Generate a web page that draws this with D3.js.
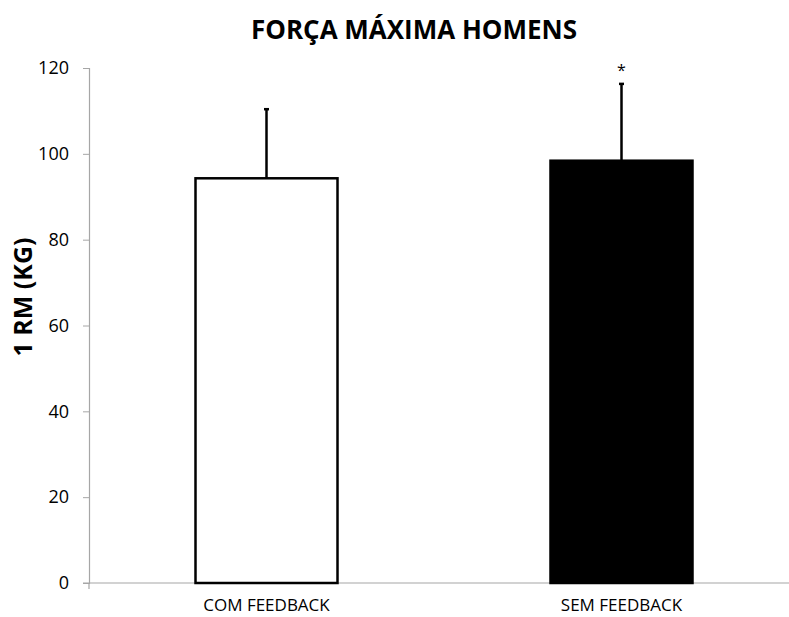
<!DOCTYPE html>
<html><head><meta charset="utf-8">
<script src="https://cdn.jsdelivr.net/npm/d3@7"></script>
<style>body{margin:0;background:#fff}svg{display:block}</style>
</head><body>
<svg id="c" width="789" height="617"></svg>
<script>
const categories = ["COM FEEDBACK", "SEM FEEDBACK"];
const means = [94.3, 98.4];
const errors = [16.1, 17.9];
const fills = ["#ffffff", "#000000"];
const marks = ["", "*"];
const yTicks = [0, 20, 40, 60, 80, 100, 120];
const title = "FORÇA MÁXIMA HOMENS";
const yLabel = "1 RM (KG)";

const svg = d3.select("#c");
const font = "'Open Sans', 'Noto Sans', sans-serif";
const x0 = 89, x1 = 799, yTop = 68, yBot = 583;
const x = d3.scaleBand().domain(categories).range([x0, x1]).paddingInner(0.6).paddingOuter(0.3);
const y = d3.scaleLinear().domain([0, 120]).range([yBot, yTop]);

svg.append("text").attr("x", 414).attr("y", 39).attr("text-anchor", "middle")
  .attr("font-family", font).attr("font-weight", "bold").attr("font-size", 26)
  .attr("fill", "#000").text(title);

const yAxis = svg.append("g").attr("transform", `translate(${x0},0)`)
  .call(d3.axisLeft(y).tickValues(yTicks).tickSize(6).tickPadding(14));
yAxis.select(".domain").attr("stroke", "#a6a6a6").attr("stroke-width", 1.2);
yAxis.selectAll(".tick line").attr("stroke", "#a6a6a6");
yAxis.selectAll(".tick text").attr("font-family", font).attr("font-size", 18).attr("fill", "#000");

svg.append("line").attr("x1", x0 - 6).attr("x2", 789).attr("y1", yBot).attr("y2", yBot)
  .attr("stroke", "#a6a6a6").attr("stroke-width", 1.2);
svg.append("line").attr("x1", x0).attr("x2", x0).attr("y1", yBot).attr("y2", yBot + 6)
  .attr("stroke", "#a6a6a6").attr("stroke-width", 1.2);

categories.forEach((c, i) => {
  const cx = x(c) + x.bandwidth() / 2;
  svg.append("line").attr("x1", cx).attr("x2", cx).attr("y1", y(means[i])).attr("y2", y(means[i] + errors[i]))
    .attr("stroke", "#000").attr("stroke-width", 2.5);
  svg.append("line").attr("x1", cx - 2.5).attr("x2", cx + 2.5).attr("y1", y(means[i] + errors[i])).attr("y2", y(means[i] + errors[i]))
    .attr("stroke", "#000").attr("stroke-width", 2.5);
  svg.append("rect").attr("x", x(c)).attr("y", y(means[i])).attr("width", x.bandwidth())
    .attr("height", y(0) - y(means[i])).attr("fill", fills[i]).attr("stroke", "#000").attr("stroke-width", 2.5);
  if (marks[i]) {
    svg.append("text").attr("x", cx).attr("y", y(means[i] + errors[i]) - 8).attr("text-anchor", "middle")
      .attr("font-family", font).attr("font-size", 16).text(marks[i]);
  }
  svg.append("text").attr("x", cx).attr("y", 611).attr("text-anchor", "middle")
    .attr("font-family", font).attr("font-size", 17).attr("fill", "#000").text(c);
});

svg.append("text").attr("transform", `translate(32,297) rotate(-90)`).attr("text-anchor", "middle")
  .attr("font-family", font).attr("font-weight", "bold").attr("font-size", 25).text(yLabel);
</script>
</body></html>
